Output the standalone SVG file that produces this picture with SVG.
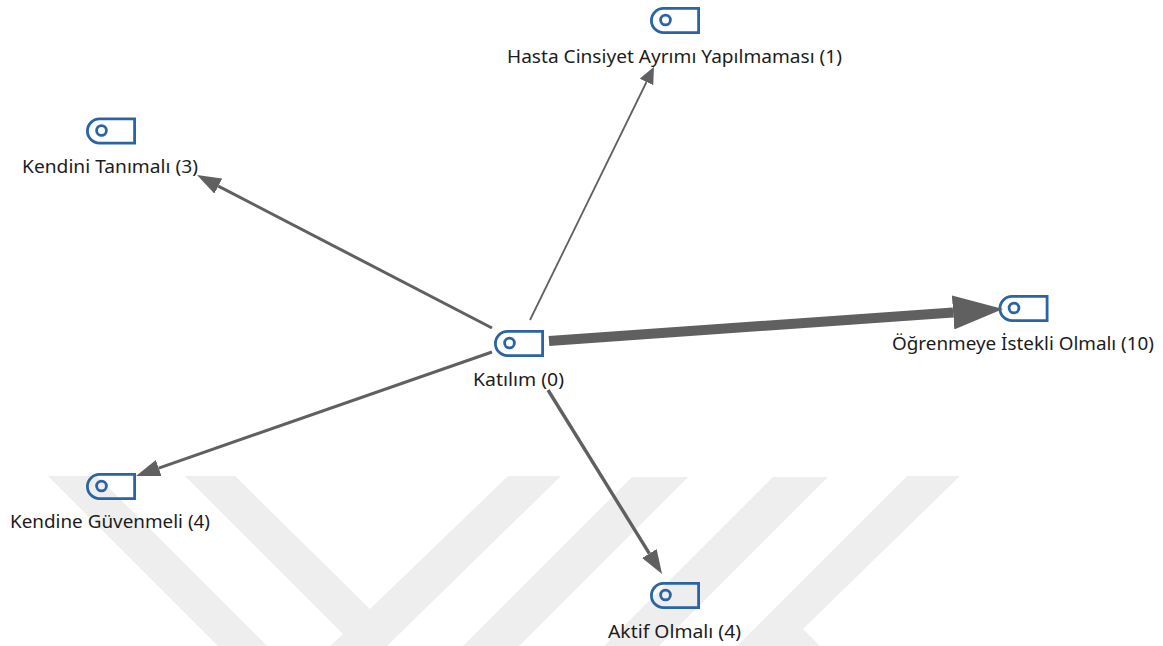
<svg xmlns="http://www.w3.org/2000/svg" width="1163" height="646" viewBox="0 0 1163 646">
<style>
.bg{fill:#ffffff}
.wm{fill:#eeeeee}
.edge{stroke:#606060;fill:none}
.head{fill:#606060}
.icon{fill:none;stroke:#2a64a5;stroke-width:2.8}
text{font-family:"Noto Sans","Open Sans","Liberation Sans",sans-serif;font-size:17.5px;fill:#1c1c1c;text-anchor:middle}
</style>
<defs>
<marker id="h1" markerUnits="userSpaceOnUse" markerWidth="17" markerHeight="15" refX="0" refY="7.5" orient="auto"><path class="head" d="M0 0L17 7.5L0 15Z"/></marker>
<marker id="h2" markerUnits="userSpaceOnUse" markerWidth="24" markerHeight="17" refX="0" refY="8.5" orient="auto"><path class="head" d="M0 0L24 8.5L0 17Z"/></marker>
<marker id="h3" markerUnits="userSpaceOnUse" markerWidth="50" markerHeight="34" refX="0" refY="17" orient="auto"><path class="head" d="M0 0L50 17L0 34Z"/></marker>
<g id="tag">
<path class="icon" d="M48.6 1.4V25.6H13.5A12.1 12.1 0 0 1 13.5 1.4Z"/>
<circle class="icon" cx="15.5" cy="13" r="4.9"/>
</g>
</defs>
<rect class="bg" width="1163" height="646"/>
<g id="watermark">
<path class="wm" d="M48 476H97L267 646H218Z"/>
<path class="wm" d="M185 476H235L370 609L508 476H561L387 646H330L343 634Z"/>
<path class="wm" d="M632 477H688L519 646H463Z"/>
<path class="wm" d="M773 477H828L659 646H604Z"/>
<path class="wm" d="M907 476H960L803 629L820 646H737Z"/>
</g>
<g id="node-katilim"><use href="#tag" x="494" y="330"/><text x="518.5" y="386" textLength="91" lengthAdjust="spacingAndGlyphs">Katılım (0)</text></g>
<g id="node-hasta"><use href="#tag" x="650" y="7"/><text x="674.5" y="63" textLength="335" lengthAdjust="spacingAndGlyphs">Hasta Cinsiyet Ayrımı Yapılmaması (1)</text></g>
<g id="node-kendini"><use href="#tag" x="86" y="117.5"/><text x="110" y="173" textLength="176" lengthAdjust="spacingAndGlyphs">Kendini Tanımalı (3)</text></g>
<g id="node-kendine"><use href="#tag" x="86" y="473"/><text x="110" y="528" textLength="200" lengthAdjust="spacingAndGlyphs">Kendine Güvenmeli (4)</text></g>
<g id="node-aktif"><use href="#tag" x="650" y="582"/><text x="674.5" y="638" textLength="133" lengthAdjust="spacingAndGlyphs">Aktif Olmalı (4)</text></g>
<g id="node-ogrenmeye"><use href="#tag" x="998.5" y="295"/><text x="1023" y="350" textLength="262" lengthAdjust="spacingAndGlyphs">Öğrenmeye İstekli Olmalı (10)</text></g>
<g id="connectors">
<line class="edge" stroke-width="1.8" x1="530" y1="320" x2="646.5" y2="82" marker-end="url(#h1)"/>
<line class="edge" stroke-width="3" x1="492" y1="328" x2="218.3" y2="186.1" marker-end="url(#h2)"/>
<line class="edge" stroke-width="3" x1="492" y1="352" x2="158.7" y2="468.1" marker-end="url(#h2)"/>
<line class="edge" stroke-width="3.4" x1="548" y1="390" x2="649.4" y2="553.6" marker-end="url(#h2)"/>
<line class="edge" stroke-width="10" x1="549" y1="341" x2="953.1" y2="312.5" marker-end="url(#h3)"/>
</g>
</svg>
